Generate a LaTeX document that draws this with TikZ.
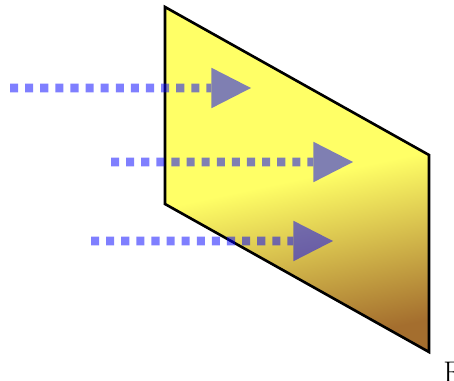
\documentclass[tikz,border=0pt]{standalone}
\usepackage{tikz}
\usetikzlibrary{arrows.meta}
\definecolor{gelb}{RGB}{255,255,102}
\definecolor{braun}{RGB}{164,110,46}
\definecolor{strahlblau}{RGB}{0,0,255}

\begin{document}
\begin{tikzpicture}[
  x=0.02cm, y=-0.02cm,
  strahl/.style={-{Triangle[length=22.5pt, width=23pt, line width=0pt]},
                 strahlblau, line width=5pt,
                 dash pattern=on 4.6pt off 4pt},
  flaeche/.style={draw=black, line width=1.5pt, line join=miter,
                  top color=gelb, bottom color=braun,
                  middle color=gelb, shading angle=12}
]
\useasboundingbox (0,0) rectangle (454,381);

% ---------- Flaeche ----------------------------------------------
\path[flaeche] (165,7) -- (429,155) -- (429,352) -- (165,204) -- cycle;

% ---------- Strahlen ---------------------------------------------
\coordinate (s1a) at (10,88);
\coordinate (s1b) at (251,88);
\coordinate (s2a) at (111,162);
\coordinate (s2b) at (353,162);
\coordinate (s3a) at (91,241);
\coordinate (s3b) at (333,241);

\begin{scope}[transparency group, opacity=0.5]
  \draw[strahl] (s1a) -- (s1b);
  \draw[strahl] (s2a) -- (s2b);
  \draw[strahl] (s3a) -- (s3b);
\end{scope}

% ---------- Beschriftung -----------------------------------------
\node[anchor=base west, inner sep=0pt, font=\fontsize{17}{20}\selectfont]
  (lbl) at (443,383) {F};

\end{tikzpicture}
\end{document}
